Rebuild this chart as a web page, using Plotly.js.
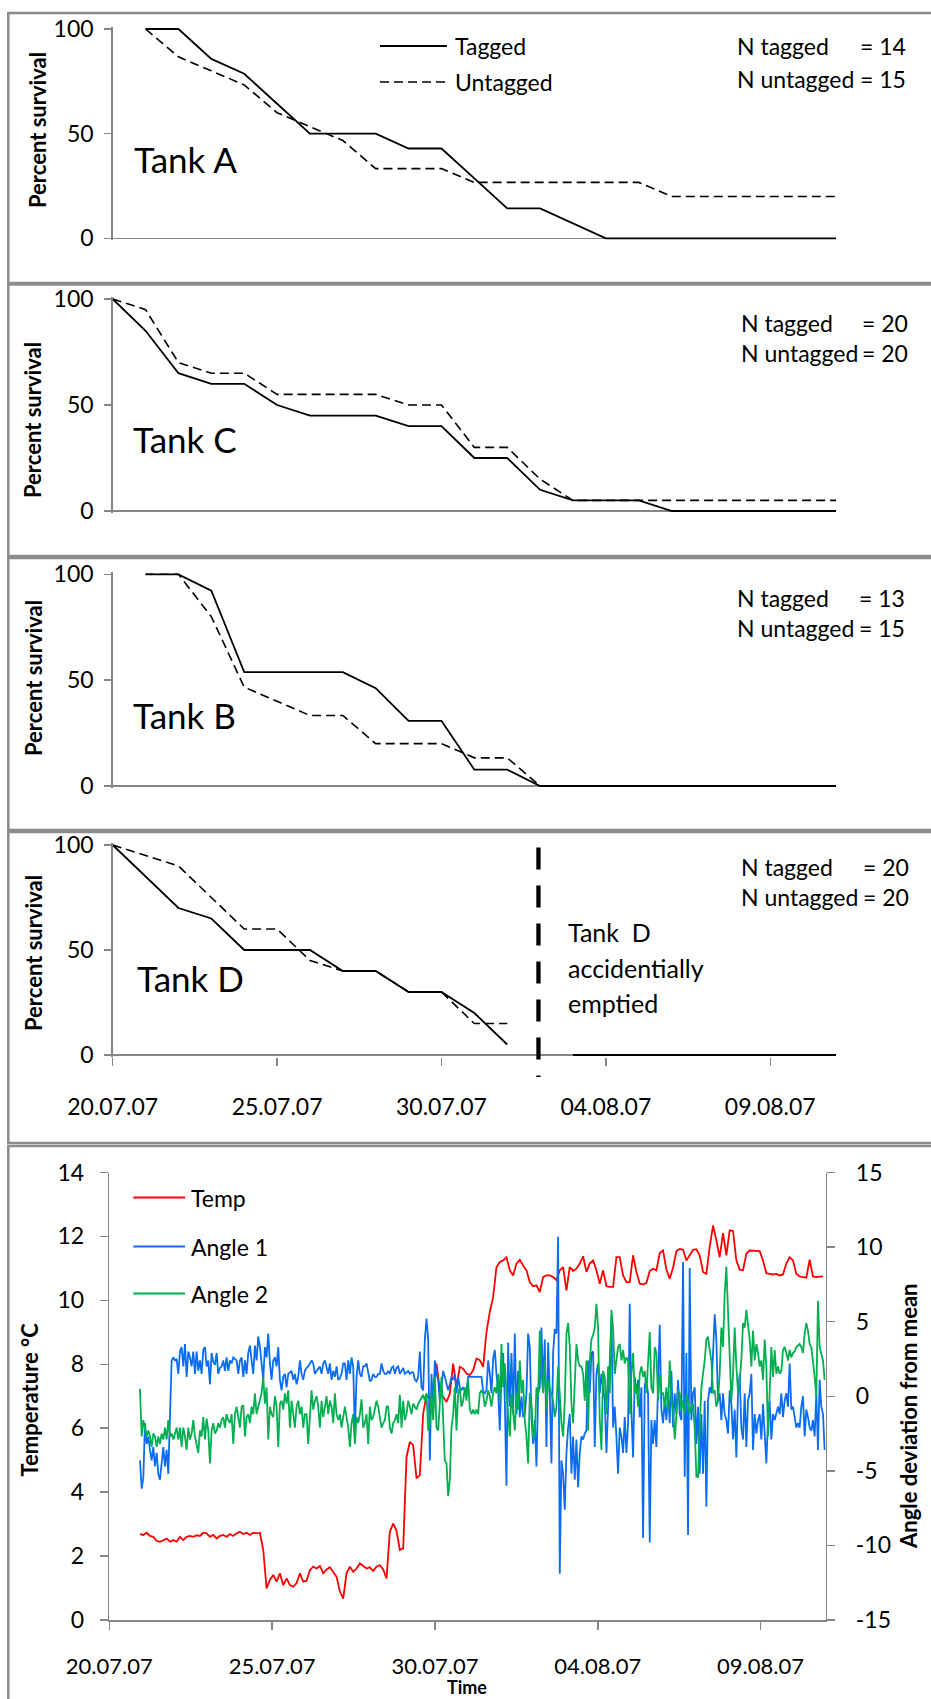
<!DOCTYPE html>
<html><head><meta charset="utf-8">
<script src="https://cdn.plot.ly/plotly-3.0.1.min.js"></script>
<style>html,body{margin:0;padding:0;background:#fff}#chart{width:931px;height:1699px}</style>
</head><body><div id="chart"></div>
<script>
// ---------------- DATA ----------------
const survivalDates = ['2007-07-20','2007-07-21','2007-07-22','2007-07-23','2007-07-24','2007-07-25','2007-07-26','2007-07-27','2007-07-28','2007-07-29','2007-07-30','2007-07-31','2007-08-01','2007-08-02','2007-08-03','2007-08-04','2007-08-05','2007-08-06','2007-08-07','2007-08-08','2007-08-09','2007-08-10','2007-08-11'];
const tankATagged   = [null,100,100,85.7,78.6,64.3,50,50,50,42.9,42.9,28.6,14.3,14.3,7.1,0,0,0,0,0,0,0,0];
const tankAUntagged = [null,100,86.7,80,73.3,60,53.3,46.7,33.3,33.3,33.3,26.7,26.7,26.7,26.7,26.7,26.7,20,20,20,20,20,20];
const tankCTagged   = [100,85,65,60,60,50,45,45,45,40,40,25,25,10,5,5,5,0,0,0,0,0,0];
const tankCUntagged = [100,95,70,65,65,55,55,55,55,50,50,30,30,15,5,5,5,5,5,5,5,5,5];
const tankBTagged   = [null,100,100,92.3,53.8,53.8,53.8,53.8,46.2,30.8,30.8,7.7,7.7,0,0,0,0,0,0,0,0,0,0];
const tankBUntagged = [null,100,100,80,46.7,40,33.3,33.3,20,20,20,13.3,13.3,0,0,0,0,0,0,0,0,0,0];
const tankDTagged   = [100,85,70,65,50,50,50,40,40,30,30,20,5,null,0,0,0,0,0,0,0,0,0];
const tankDUntagged = [100,95,90,75,60,60,45,40,40,30,30,15,15,null,0,0,0,0,0,0,0,0,0];
const tankNames = ['Tank A','Tank C','Tank B','Tank D'];
const nTagged   = ['= 14','= 20','= 13','= 20'];
const nUntagged = ['= 15','= 20','= 15','= 20'];
const emptiedDate = '2007-08-01 22:48';

const dateTickVals = ['2007-07-20','2007-07-25','2007-07-30','2007-08-04','2007-08-09'];
const dateTickText = ['20.07.07','25.07.07','30.07.07','04.08.07','09.08.07'];
const tempTickVals = [0,2,4,6,8,10,12,14];
const angleTickVals = [-15,-10,-5,0,5,10,15];
const angleTickText = ['-15','-10','-5','0','5','10','15'];

// logger series: first reading and sampling intervals (ms)
const loggerStart = '2007-07-20 22:36:54';
const tempStepMs = 8839800;
const angleStepMs = 4419900;
const tempValues = [2.69,2.66,2.73,2.63,2.60,2.47,2.45,2.50,2.55,2.45,2.50,2.45,2.60,2.50,2.60,2.63,2.60,2.65,2.63,2.73,2.71,2.60,2.66,2.55,2.63,2.66,2.60,2.69,2.63,2.71,2.76,2.69,2.73,2.66,2.73,2.71,2.73,2.19,0.99,1.25,1.41,1.20,1.46,1.09,1.30,1.09,1.04,1.15,1.46,1.20,1.23,1.56,1.67,1.61,1.69,1.46,1.58,1.65,1.51,1.35,0.89,0.67,1.46,
1.67,1.51,1.61,1.77,1.69,1.61,1.65,1.54,1.67,1.72,1.58,1.30,2.76,3.02,2.79,2.19,2.24,5.10,5.57,5.47,4.43,4.53,6.46,7.03,6.93,7.19,8.02,7.19,6.98,6.82,7.08,8.02,7.29,7.92,7.86,7.71,7.66,7.81,8.18,8.13,7.92,9.01,9.64,10.10,11.04,11.20,11.25,11.35,10.94,10.78,11.15,11.27,11.09,10.94,10.57,10.44,10.47,10.26,10.73,10.78,10.78,10.73,10.63,10.94,11.04,10.31,11.04,10.92,10.99,11.15,
11.38,10.89,11.15,11.25,10.94,10.52,10.94,10.44,10.42,10.42,11.35,11.35,10.78,10.57,10.57,11.41,10.89,10.52,10.50,10.54,10.92,10.99,10.94,11.48,11.56,10.96,10.68,11.02,11.54,11.61,11.58,11.25,11.41,11.58,11.60,11.41,10.89,10.83,11.67,12.34,11.88,11.35,12.10,11.41,12.19,12.17,11.25,10.96,10.94,11.46,11.56,11.56,11.54,11.54,11.25,10.85,10.83,10.81,10.83,10.78,10.81,11.15,11.35,11.25,10.83,10.75,10.73,10.71,11.27,10.75,10.73,10.73,10.75];
const angle1Values = [-4.3,-6.2,-5.5,-1.8,-3.2,-2.7,-3.6,-4.3,-3.4,-4.7,-3.8,-5.2,-5.6,-4.3,-3.4,-4.7,-3.6,-5.2,-1.2,2.4,
2.6,2.4,2.5,1.5,3.0,3.3,2.0,3.5,1.3,3.0,2.6,2.0,3.0,1.5,3.0,1.7,2.4,1.5,3.1,3.3,
2.0,2.4,0.8,2.9,2.3,2.1,2.9,1.5,1.9,2.0,2.4,1.7,2.6,1.7,2.4,2.2,2.6,2.5,2.4,1.5,
2.4,2.6,1.3,2.4,1.5,2.9,3.4,2.4,1.5,3.4,2.4,4.0,3.3,2.2,1.1,3.3,2.6,4.2,2.2,1.1,
2.4,2.6,2.0,3.3,1.1,0.4,1.3,1.5,0.6,1.5,1.6,1.7,1.1,1.5,0.8,1.3,2.4,1.5,1.1,1.7,
1.9,2.0,2.2,2.4,2.2,1.5,1.7,1.9,2.0,1.5,2.2,2.4,2.0,1.5,2.2,1.1,1.7,1.3,2.0,1.1,
1.2,1.5,2.2,2.2,1.1,2.4,
1.5,2.6,2.0,-2.5,1.3,2.4,1.5,1.3,2.0,2.0,2.2,1.5,1.0,1.1,1.5,1.3,1.3,1.5,1.5,2.2,
1.7,1.5,1.5,1.7,1.5,1.9,2.0,1.5,1.9,2.0,1.5,1.7,1.9,1.5,1.6,1.7,1.5,1.6,1.6,1.1,
1.0,1.3,3.0,0.6,0.4,3.8,5.2,3.8,-4.3,1.5,-0.9,2.4,1.5,1.1,-0.3,0.6,1.7,1.3,0.8,0.4,
0.8,1.3,1.1,1.5,0.2,1.3,0.6,0.4,0.6,0.4,0.4,1.3,1.3,1.3,1.3,1.3,1.3,1.3,1.3,1.3,
0.3,0.2,0.4,2.4,1.5,0.2,2.5,3.1,1.5,0.4,-2.3,1.5,2.9,-0.3,-6.0,3.6,-0.7,2.9,-1.2,4.2,
-1.2,1.7,-1.4,0.0,-1.4,-1.2,0.2,4.2,3.3,-1.4,-3.2,-1.6,-4.7,0.2,0.6,4.6,0.4,3.8,-3.4,3.6,
0.2,-4.5,2.9,4.5,4.2,10.7,-11.9,-4.3,-5.2,-7.6,-3.8,-2.1,-1.2,-5.2,-2.7,-5.6,-2.9,-6.1,-3.8,-2.7,
-2.9,-2.5,-2.3,2.4,
0.2,2.9,3.0,-3.4,1.5,2.2,0.2,1.5,0.6,-0.3,-3.8,-0.7,2.0,5.3,-2.1,-0.7,-2.7,-5.2,-2.1,-2.7,
-3.8,-1.4,-3.8,-1.8,6.2,-0.9,-4.1,1.3,0.2,1.1,-1.4,0.6,-9.5,0.8,1.0,0.2,-9.8,-1.6,-3.2,-1.6,
-3.4,0.6,4.8,-0.9,-1.8,-0.3,-1.6,0.2,-1.8,1.7,-2.1,0.2,-1.2,1.1,-1.2,-1.6,9.0,-5.4,2.9,-9.3,
8.6,-1.6,0.2,0.6,-3.2,-0.7,-5.2,-1.2,-5.2,-0.3,-7.4,-0.3,0.6,0.2,3.3,5.5,3.8,-0.3,0.2,-1.6,
0.2,-1.2,-1.6,-2.5,0.4,-0.5,-2.9,-0.9,-4.1,0.2,1.5,-2.1,-2.9,0.2,-3.4,-0.3,0.2,1.5,-3.6,-1.2,
-2.5,-1.6,-1.2,-2.9,-0.5,-2.5,-4.5,-1.6,-0.3,-2.9,-1.2,-1.6,-1.2,-0.7,-1.2,0.2,-1.4,-0.3,0.2,-0.7,
2.2,-0.9,-0.7,-1.6,-2.1,-1.8,-2.1,-0.7,0.0,-2.7,-0.9,-1.4,-2.1,-2.3,-1.6,-2.7,0.2,-3.6,1.1,-0.7,
-1.2,-3.6];
const angle2Values = [0.5,-2.7,-1.6,-2.1,-2.7,-2.3,-2.7,-3.4,-2.5,-2.7,-3.4,-2.7,-3.2,-2.5,-2.9,-2.1,-2.9,-1.6,-2.7,-2.5,
-2.9,-2.5,-2.1,-2.9,-2.1,-3.4,-2.1,-2.7,-3.6,-2.1,-2.9,-2.5,-1.6,-2.7,-3.4,-3.8,-2.3,-2.7,-1.4,-2.9,
-1.5,-2.3,-4.5,-2.3,-1.8,-2.5,-2.3,-1.8,-2.1,-1.6,-1.4,-2.1,-1.2,-1.6,-1.8,-1.2,-3.2,-1.2,-0.7,-1.4,
-2.1,-0.7,-0.6,-2.7,-1.4,-1.2,-1.8,-0.7,-1.2,0.2,-1.2,-0.7,-0.3,0.2,1.3,-0.5,0.6,-2.9,-0.7,-1.2,
-1.4,0.0,-0.7,-3.4,-0.5,-0.3,-0.9,0.2,-0.5,0.4,-2.1,-0.3,-1.2,-2.1,-0.7,-0.3,-1.2,-0.7,-2.1,-1.2,
-1.2,-3.2,-1.4,0.4,-0.9,-0.3,0.0,-0.7,-2.1,-0.3,-1.4,-0.7,0.0,-1.2,-0.3,-0.7,-1.8,0.2,-1.2,-1.6,
-1.2,-2.1,-1.4,-0.7,-1.4,-2.1,
-3.4,-1.8,-1.2,-3.2,-1.4,-1.8,-1.2,-0.2,-2.1,-1.8,-1.2,-3.2,-0.7,-1.6,-1.4,-0.9,-0.3,-0.7,-1.6,-2.1,
-1.8,-1.6,-0.7,-0.7,-2.1,-2.5,-1.8,-1.6,-1.2,-1.8,0.1,-2.1,-0.3,-1.6,-1.2,-0.3,-0.7,-1.2,-0.5,-0.7,
-0.9,-0.5,-0.3,0.0,0.1,-0.3,0.2,-2.3,-1.8,0.2,-1.6,1.3,-2.1,-2.3,0.0,1.3,-1.6,-4.3,-4.5,-6.7,
-5.6,-2.1,-1.2,0.6,-2.3,0.2,0.6,-0.7,-0.3,0.6,-0.3,1.1,-0.9,-1.2,-0.9,-1.2,-0.9,-1.2,0.2,0.4,
0.2,-0.7,-0.3,0.4,0.0,-0.7,0.2,0.6,0.2,1.5,-0.3,3.5,0.6,2.2,0.2,-1.6,-2.7,0.2,-1.2,-2.3,
0.2,-0.9,2.4,0.2,1.1,-1.6,-2.7,-4.5,0.2,-0.5,-2.7,-2.7,0.6,0.0,4.4,1.5,0.2,2.4,-0.9,1.1,
0.6,0.2,-0.3,-1.4,-0.7,2.0,0.2,-1.8,-2.7,-0.3,4.2,4.9,3.3,-0.5,-1.8,1.5,3.5,2.4,2.0,2.0,
1.5,-0.3,2.4,-2.3,
2.4,3.8,4.1,4.6,6.2,4.6,-1.6,-3.6,1.7,1.3,-1.2,2.0,0.2,5.8,4.6,1.5,2.4,3.3,3.5,2.4,
3.1,2.2,2.6,2.4,-1.2,1.5,2.9,0.2,0.8,-0.7,1.5,2.0,1.3,1.7,0.2,2.0,4.3,0.6,0.2,3.3,
2.9,-0.3,1.5,0.2,0.2,-0.7,0.6,-0.9,2.4,-0.3,-0.9,-2.9,-0.9,0.4,0.2,-0.9,-0.3,-1.2,0.2,-0.3,
-1.2,-0.7,-0.5,-2.1,-5.4,-5.4,-2.1,0.6,1.5,2.4,3.8,4.0,3.1,2.4,0.2,0.4,-0.7,-0.3,1.5,4.6,
3.3,6.9,8.7,5.8,2.0,-0.3,1.5,4.6,2.0,0.2,1.1,2.4,4.9,4.6,5.8,4.6,3.8,2.0,4.4,2.4,
3.5,2.9,2.0,2.4,1.1,3.8,2.0,-2.7,0.2,3.3,1.3,3.1,1.5,2.0,1.5,1.7,3.1,3.3,2.9,2.4,
3.1,2.6,2.9,3.0,3.3,3.4,3.5,3.3,2.9,4.2,4.9,4.4,3.5,3.3,2.4,1.3,0.0,6.4,3.3,2.9,
2.4,1.1];
const loggerNames = ['Temp','Angle 1','Angle 2'];
const loggerColors = ['#ff0000','#0a6cf0','#00b050'];

// ---------------- LAYOUT HELPERS ----------------
const W = 931, H = 1699;
const px = v => v / W;
const py = v => 1 - v / H;
const FONT = 'Lato, "Noto Sans", sans-serif';
const AX = '#868686';
const tickFont = {family: FONT, size: 23, color: '#000'};
const DASH = '9px,5px';

const survXDomain = [px(112.7), px(836)];
const survYDomains = [[py(240.4), py(26.9)], [py(513.1), py(296.9)], [py(788.1), py(572.2)], [py(1057.1), py(842.9)]];

function survX(i, labels) {
  return {
    type: 'date', domain: survXDomain, anchor: i === 0 ? 'y' : 'y' + (i + 1),
    range: [survivalDates[0], survivalDates[survivalDates.length - 1]],
    showgrid: false, zeroline: false, showline: false,
    ticks: labels ? 'outside' : '', ticklen: 8, tickwidth: 1.5, tickcolor: AX,
    tickvals: dateTickVals, ticktext: dateTickText, showticklabels: labels,
    tickfont: tickFont, ticklabelstandoff: 21, fixedrange: true
  };
}
function survY(i) {
  return {
    domain: survYDomains[i], anchor: i === 0 ? 'x' : 'x' + (i + 1),
    range: [-1, 101], tickvals: [0, 50, 100], ticks: 'outside', ticklen: 7, tickwidth: 1.5, tickcolor: AX,
    showline: true, linecolor: AX, linewidth: 1.5, showgrid: false,
    zeroline: true, zerolinecolor: AX, zerolinewidth: 1.5,
    tickfont: tickFont, ticklabelstandoff: 6, fixedrange: true
  };
}

const survSets = [[tankATagged, tankAUntagged], [tankCTagged, tankCUntagged], [tankBTagged, tankBUntagged], [tankDTagged, tankDUntagged]];
const traces = [];
survSets.forEach((pair, i) => {
  const xa = i === 0 ? 'x' : 'x' + (i + 1), ya = i === 0 ? 'y' : 'y' + (i + 1);
  traces.push({x: survivalDates, y: pair[0], xaxis: xa, yaxis: ya, mode: 'lines', line: {color: '#000', width: 1.8}, hoverinfo: 'skip', showlegend: false});
  traces.push({x: survivalDates, y: pair[1], xaxis: xa, yaxis: ya, mode: 'lines', line: {color: '#000', width: 1.6, dash: DASH}, hoverinfo: 'skip', showlegend: false});
});
traces.push({x0: loggerStart, dx: tempStepMs, y: tempValues, xaxis: 'x5', yaxis: 'y5', mode: 'lines', name: loggerNames[0], line: {color: loggerColors[0], width: 1.8}, hoverinfo: 'skip', showlegend: false});
traces.push({x0: loggerStart, dx: angleStepMs, y: angle1Values, xaxis: 'x5', yaxis: 'y6', mode: 'lines', name: loggerNames[1], line: {color: loggerColors[1], width: 1.8}, hoverinfo: 'skip', showlegend: false});
traces.push({x0: loggerStart, dx: angleStepMs, y: angle2Values, xaxis: 'x5', yaxis: 'y6', mode: 'lines', name: loggerNames[2], line: {color: loggerColors[2], width: 1.8}, hoverinfo: 'skip', showlegend: false});

// annotations
const ann = [];
function txt(text, x, y, opts) {
  ann.push(Object.assign({text: text, x: px(x), y: py(y), xref: 'paper', yref: 'paper', showarrow: false,
    xanchor: 'left', yanchor: 'middle', font: {family: FONT, size: 23, color: '#000'}}, opts || {}));
}
const titleY = [130, 420, 678, 953], titleX = [38, 33, 33, 33];
const tankPos = [[131.7, 159], [130.6, 439], [130.6, 715], [135.4, 978]];
const nPos = [[735, 908, 46, 79.5], [739, 910, 323.3, 353.3], [735, 907, 598.3, 628.3], [739, 911, 866.7, 897.3]];
for (let i = 0; i < 4; i++) {
  txt('Percent survival', titleX[i], titleY[i], {xanchor: 'center', textangle: -90, font: {family: FONT, size: 22, color: '#000', weight: 'bold'}});
  txt(tankNames[i], tankPos[i][0], tankPos[i][1], {font: {family: FONT, size: 35, color: '#000'}});
  txt('N tagged', nPos[i][0], nPos[i][2]);
  txt(nTagged[i], nPos[i][1], nPos[i][2], {xanchor: 'right'});
  txt('N untagged', nPos[i][0], nPos[i][3]);
  txt(nUntagged[i], nPos[i][1], nPos[i][3], {xanchor: 'right'});
}
txt('Tagged', 453, 46);
txt('Untagged', 453, 82);
txt('Tank\u00a0\u00a0D', 566, 932, {font: {family: FONT, size: 25, color: '#000'}});
txt('accidentially', 566, 968, {font: {family: FONT, size: 25, color: '#000'}});
txt('emptied', 566, 1003, {font: {family: FONT, size: 25, color: '#000'}});
txt('Temperature °C', 28.5, 1400, {xanchor: 'center', textangle: -90, font: {family: FONT, size: 22, color: '#000', weight: 'bold'}});
txt('Angle deviation from mean', 908, 1417, {xanchor: 'center', textangle: -90, font: {family: FONT, size: 22, color: '#000', weight: 'bold'}});
txt('Time', 467, 1686.5, {xanchor: 'center', font: {family: FONT, size: 18, color: '#000', weight: 'bold'}});
const legY = [1198, 1247, 1294];
loggerNames.forEach((n, i) => txt(n, 189, legY[i]));

// shapes
const shapes = [];
const boxes = [[13, 283], [284.5, 556], [558, 830], [832, 1143], [1146, 1712]];
boxes.forEach(b => shapes.push({type: 'rect', xref: 'paper', yref: 'paper', x0: px(8.3), x1: px(945), y0: py(b[1]), y1: py(b[0]), line: {color: '#8c8c8c', width: 2.5}, fillcolor: 'rgba(0,0,0,0)'}));
shapes.push({type: 'line', xref: 'paper', yref: 'paper', x0: px(380), x1: px(447), y0: py(46), y1: py(46), line: {color: '#000', width: 1.8}});
shapes.push({type: 'line', xref: 'paper', yref: 'paper', x0: px(380), x1: px(447), y0: py(82), y1: py(82), line: {color: '#000', width: 1.6, dash: DASH}});
legY.forEach((y, i) => shapes.push({type: 'line', xref: 'paper', yref: 'paper', x0: px(133.3), x1: px(185), y0: py(y - 0.5), y1: py(y - 0.5), line: {color: loggerColors[i], width: 2}}));
shapes.push({type: 'line', xref: 'x4', yref: 'paper', x0: emptiedDate, x1: emptiedDate, y0: py(847.6), y1: py(1077), line: {color: '#000', width: 4.3, dash: '22px,16px'}});

const layout = {
  width: W, height: H, margin: {l: 0, r: 0, t: 0, b: 0}, paper_bgcolor: '#fff', plot_bgcolor: 'rgba(0,0,0,0)',
  showlegend: false, font: {family: FONT, color: '#000'},
  xaxis: survX(0, false), xaxis2: survX(1, false), xaxis3: survX(2, false), xaxis4: survX(3, true),
  yaxis: survY(0), yaxis2: survY(1), yaxis3: survY(2), yaxis4: survY(3),
  xaxis5: {type: 'date', domain: [px(109.3), px(825.7)], anchor: 'y5', range: [survivalDates[0], survivalDates[survivalDates.length - 1]],
    showgrid: false, zeroline: false, showline: true, linecolor: AX, linewidth: 1.5,
    ticks: 'outside', ticklen: 8, tickwidth: 1.5, tickcolor: AX, tickvals: dateTickVals, ticktext: dateTickText,
    tickfont: {family: FONT, size: 22, color: '#000'}, ticklabelstandoff: 18, fixedrange: true},
  yaxis5: {domain: [py(1620), py(1172.5)], anchor: 'x5', range: [0, 14], tickvals: tempTickVals,
    showgrid: false, zeroline: false, showline: true, linecolor: AX, linewidth: 1.5,
    ticks: 'outside', ticklen: 8, tickwidth: 1.5, tickcolor: AX, tickfont: tickFont, ticklabelstandoff: 11, fixedrange: true},
  yaxis6: {overlaying: 'y5', side: 'right', anchor: 'x5', range: [-15, 15], tickvals: angleTickVals, ticktext: angleTickText,
    showgrid: false, zeroline: false, showline: true, linecolor: AX, linewidth: 1.5,
    ticks: 'outside', ticklen: 8, tickwidth: 1.5, tickcolor: AX, tickfont: tickFont, ticklabelstandoff: 16, fixedrange: true},
  annotations: ann, shapes: shapes
};
Plotly.newPlot('chart', traces, layout, {staticPlot: true, displayModeBar: false});
</script></body></html>
